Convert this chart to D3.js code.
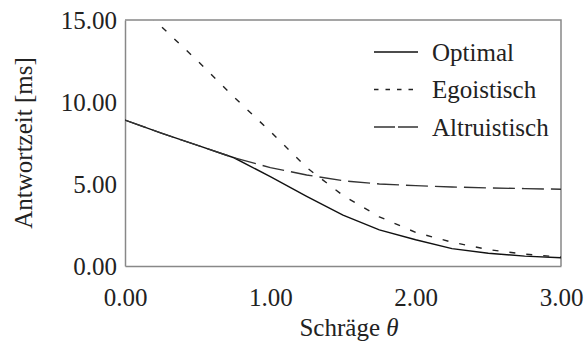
<!DOCTYPE html>
<html>
<head>
<meta charset="utf-8">
<script src="https://cdn.jsdelivr.net/npm/d3@7"></script>
<style>
  body { margin: 0; background: #fff; }
</style>
</head>
<body>
<div id="chart"></div>
<script>
// Skew values (x axis)
const theta = [0, 0.25, 0.5, 0.75, 1.0, 1.25, 1.5, 1.75, 2.0, 2.25, 2.5, 2.75, 3.0];

// Response time per strategy [ms]
const optimal    = [8.9, 8.1, 7.35, 6.6, 5.45, 4.25, 3.1, 2.2, 1.6, 1.06, 0.78, 0.6, 0.5];
const egoistic   = [16.7, 14.6, 12.5, 10.3, 8.2, 6.0, 4.3, 3.0, 2.05, 1.45, 1.0, 0.72, 0.55];
const altruistic = [8.9, 8.1, 7.35, 6.6, 6.0, 5.55, 5.2, 5.0, 4.9, 4.82, 4.76, 4.72, 4.68];

const xTicks = [0, 1, 2, 3];
const yTicks = [0, 5, 10, 15];

const FONT = 'Liberation Serif';

const series = [
  { name: 'Optimal', values: optimal, dash: null, legendDash: null, color: '#111' },
  { name: 'Egoistisch', values: egoistic, dash: '6,11', legendDash: '4.5,7', color: '#222' },
  { name: 'Altruistisch', values: altruistic, dash: '22,7', legendDash: '21,3', color: '#333' }
];

const W = 585, H = 347;
const margin = { top: 20, right: 24, bottom: 81, left: 125 };
const width = W - margin.left - margin.right;
const height = H - margin.top - margin.bottom;

const svg = d3.select('#chart').append('svg')
  .attr('width', W)
  .attr('height', H)
  .attr('font-family', FONT);

const g = svg.append('g')
  .attr('transform', `translate(${margin.left},${margin.top})`);

const x = d3.scaleLinear().domain([0, 3]).range([0, width]);
const y = d3.scaleLinear().domain([0, 15]).range([height, 0]);

g.append('clipPath').attr('id', 'plot-clip')
  .append('rect').attr('width', width).attr('height', height);

// Axes
const fmt = d3.format('.2f');
const xAxis = g.append('g')
  .attr('transform', `translate(0,${height})`)
  .call(d3.axisBottom(x).tickValues(xTicks).tickFormat(fmt).tickSize(0).tickPadding(22));

const yAxis = g.append('g')
  .call(d3.axisLeft(y).tickValues(yTicks).tickFormat(fmt).tickSize(0).tickPadding(8));

[xAxis, yAxis].forEach(a => {
  a.attr('font-family', FONT).attr('font-size', 25);
  a.select('.domain').attr('stroke', '#888').attr('stroke-width', 1.5);
  a.selectAll('text').attr('fill', '#222');
});
xAxis.selectAll('text').attr('dy', '0.71em');
yAxis.selectAll('text').attr('dy', '0.34em');

// Top and right frame
g.append('path')
  .attr('d', `M0,0H${width}V${height}`)
  .attr('fill', 'none')
  .attr('stroke', '#888')
  .attr('stroke-width', 1.5);

// Lines
const line = d3.line()
  .x((d, i) => x(theta[i]))
  .y(d => y(d));

g.append('g').attr('clip-path', 'url(#plot-clip)')
  .selectAll('path')
  .data(series)
  .enter()
  .append('path')
  .attr('d', d => line(d.values))
  .attr('fill', 'none')
  .attr('stroke', d => d.color)
  .attr('stroke-width', 1.4)
  .attr('stroke-dasharray', d => d.dash);

// Legend
const legend = g.append('g').attr('transform', 'translate(249,32)');
series.forEach((s, i) => {
  const row = legend.append('g').attr('transform', `translate(0,${i * 37.5})`);
  row.append('line')
    .attr('x1', 0).attr('x2', 44)
    .attr('stroke', s.color)
    .attr('stroke-width', 1.6)
    .attr('stroke-dasharray', s.legendDash);
  row.append('text')
    .attr('x', 58)
    .attr('dy', '0.34em')
    .attr('fill', '#222')
    .attr('font-size', 25)
    .text(s.name);
});

// Axis titles
g.append('text')
  .attr('x', width / 2 + 6)
  .attr('y', height + 70)
  .attr('text-anchor', 'middle')
  .attr('fill', '#222')
  .attr('font-size', 25)
  .html('Schräge <tspan font-style="italic">θ</tspan>');

g.append('text')
  .attr('transform', `translate(${32 - margin.left},${height / 2}) rotate(-90)`)
  .attr('text-anchor', 'middle')
  .attr('fill', '#222')
  .attr('font-size', 25)
  .text('Antwortzeit [ms]');
</script>
</body>
</html>
